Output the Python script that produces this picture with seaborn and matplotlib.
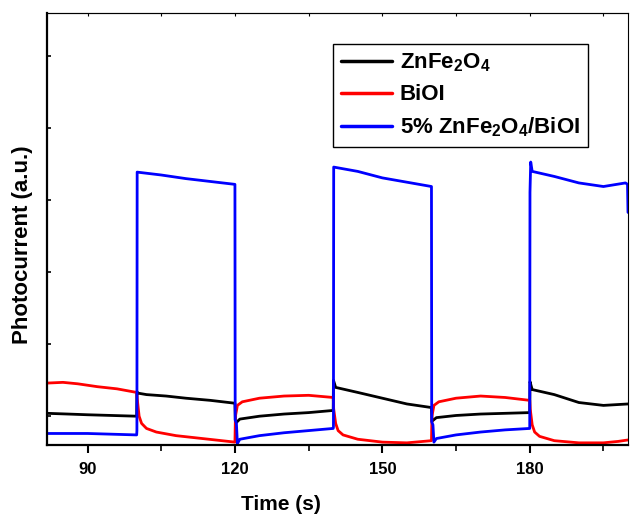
import matplotlib
matplotlib.use("Agg")
import matplotlib.pyplot as plt
import seaborn as sns
import pandas as pd
from matplotlib.ticker import MultipleLocator

# ---------------- data ----------------
series_names = [r"ZnFe$_\mathbf{2}$O$_\mathbf{4}$", "BiOI", r"5% ZnFe$_\mathbf{2}$O$_\mathbf{4}$/BiOI"]
series_colors = ["#000000", "#ff0000", "#0000ff"]

t_zfo = [81.75, 86, 90, 95, 100, 100.05, 100.3, 102, 106, 110, 115, 120, 120.1, 121, 125, 130, 135, 140,
         140.05, 140.5, 145, 150, 155, 160, 160.1, 161, 165, 170, 175, 180, 180.05, 180.5, 185, 190, 195, 200]
y_zfo = [0.04, 0.03, 0.02, 0.01, 0.00, 0.34, 0.32, 0.30, 0.28, 0.25, 0.22, 0.18, -0.10, -0.04, 0.00, 0.03, 0.05, 0.08,
         0.50, 0.40, 0.33, 0.25, 0.17, 0.12, -0.07, -0.02, 0.01, 0.03, 0.04, 0.05, 0.48, 0.37, 0.30, 0.19, 0.15, 0.17]

t_bioi = [81.75, 85, 88, 92, 96, 100, 100.1, 100.5, 101, 102, 104, 108, 112, 116, 120,
          120.1, 120.5, 121.5, 125, 130, 135, 140, 140.1, 140.5, 141, 142, 145, 150, 155, 160,
          160.1, 160.5, 161.5, 165, 170, 175, 180, 180.1, 180.5, 181, 182, 185, 190, 195, 198, 200]
y_bioi = [0.46, 0.47, 0.45, 0.41, 0.38, 0.33, 0.25, 0.00, -0.10, -0.17, -0.22, -0.27, -0.30, -0.33, -0.36,
          0.00, 0.15, 0.20, 0.25, 0.28, 0.29, 0.26, 0.10, -0.10, -0.20, -0.26, -0.32, -0.36, -0.37, -0.34,
          0.00, 0.15, 0.20, 0.25, 0.28, 0.26, 0.22, 0.10, -0.12, -0.22, -0.28, -0.34, -0.37, -0.37, -0.35, -0.33]

t_comp = [81.75, 86, 90, 95, 100, 100.05, 100.1, 105, 110, 115, 120,
          120.05, 120.3, 120.5, 121, 125, 130, 135, 140,
          140.05, 140.1, 145, 150, 155, 160,
          160.05, 160.3, 160.5, 161, 165, 170, 175, 180,
          180.05, 180.2, 180.5, 185, 190, 195, 199.5, 199.9, 200]
y_comp = [-0.24, -0.24, -0.24, -0.25, -0.26, -0.20, 3.39, 3.35, 3.30, 3.26, 3.22,
          -0.05, -0.10, -0.38, -0.32, -0.27, -0.23, -0.20, -0.17,
          -0.15, 3.46, 3.40, 3.31, 3.25, 3.19,
          -0.08, -0.12, -0.36, -0.31, -0.26, -0.22, -0.19, -0.17,
          3.11, 3.53, 3.40, 3.33, 3.24, 3.19, 3.24, 3.22, 2.83]

x_ticks = [90, 120, 150, 180]
x_label = "Time (s)"
y_label = "Photocurrent (a.u.)"

# ---------------- style ----------------
sns.set_theme(style="white")
fam = ["Liberation Sans", "DejaVu Sans"]
plt.rcParams["font.family"] = fam
plt.rcParams["font.weight"] = "bold"
plt.rcParams["text.color"] = "black"
plt.rcParams["axes.labelcolor"] = "black"
plt.rcParams["xtick.color"] = "black"
plt.rcParams["ytick.color"] = "black"
plt.rcParams["mathtext.fontset"] = "custom"
plt.rcParams["mathtext.rm"] = "Liberation Sans:bold"
plt.rcParams["mathtext.bf"] = "Liberation Sans:bold"
plt.rcParams["mathtext.default"] = "bf"

df = pd.concat([
    pd.DataFrame({"t": t_zfo, "v": y_zfo, "s": series_names[0]}),
    pd.DataFrame({"t": t_bioi, "v": y_bioi, "s": series_names[1]}),
    pd.DataFrame({"t": t_comp, "v": y_comp, "s": series_names[2]}),
], ignore_index=True)

fig = plt.figure(figsize=(6.32, 5.16), dpi=100)
ax = fig.add_axes([47 / 632, 1 - 445 / 516, 581 / 632, 432 / 516])

sns.lineplot(data=df, x="t", y="v", hue="s", hue_order=series_names,
             palette=dict(zip(series_names, series_colors)), estimator=None,
             sort=True, linewidth=2.0, ax=ax)

ax.set_xlim(81.75, 200)
ax.set_ylim(-0.40, 5.60)
ax.set_xticks(x_ticks)
ax.xaxis.set_minor_locator(MultipleLocator(15))
ax.set_yticks([0, 1, 2, 3, 4, 5])
ax.set_yticklabels([])

for side in ["left", "bottom"]:
    ax.spines[side].set_linewidth(1.6)
    ax.spines[side].set_color("black")
for side in ["top", "right"]:
    ax.spines[side].set_linewidth(0.8)
    ax.spines[side].set_color("black")

ax.tick_params(axis="x", which="major", direction="out", length=6, width=1.5,
               labelsize=12, pad=6, colors="black", bottom=True)
ax.tick_params(axis="x", which="minor", direction="out", length=4, width=1.2, bottom=True)
ax.tick_params(axis="y", which="major", direction="in", length=3, width=1.2, left=True)

sec = ax.secondary_xaxis("top")
sec.set_xticks([90, 105, 120, 135, 150, 165, 180, 195])
sec.tick_params(direction="in", length=2, width=0.8, labeltop=False)
sec.spines["top"].set_linewidth(0.8)

ax.set_xlabel(x_label, fontsize=15, fontweight="bold", color="black")
ax.set_ylabel(y_label, fontsize=16, fontweight="bold", color="black")
ax.xaxis.set_label_coords((281 - 47) / 581, -50 / 432)
ax.yaxis.set_label_coords(-14 / 581, (445 - 245) / 432)

leg = ax.legend(loc="upper left", bbox_to_anchor=((333 - 47) / 581, (445 - 44) / 432),
                borderaxespad=0, frameon=True, fancybox=False, framealpha=1,
                edgecolor="black", fontsize=16, handlelength=2.3, handletextpad=0.35,
                borderpad=0.35, labelspacing=0.45, title=None)
leg.get_frame().set_linewidth(1.0)
for line in leg.get_lines():
    line.set_linewidth(2.5)
for txt in leg.get_texts():
    txt.set_color("black")

fig.savefig("out.png", dpi=100)
